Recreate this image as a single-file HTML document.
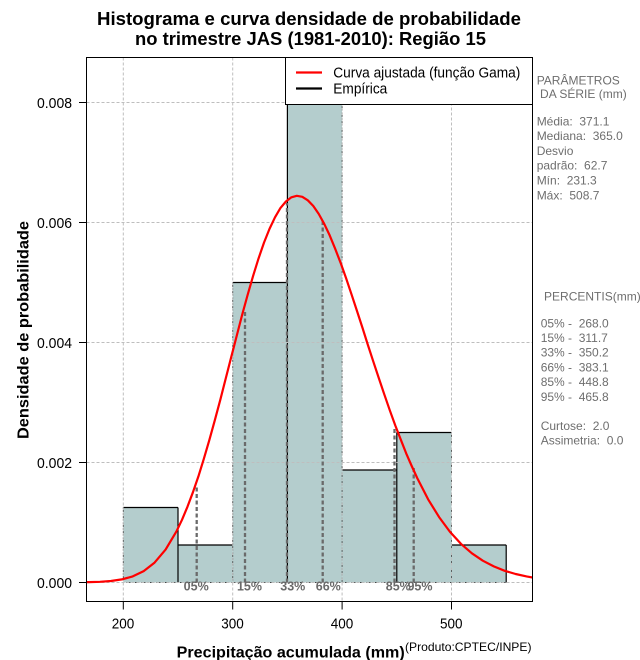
<!DOCTYPE html>
<html>
<head>
<meta charset="utf-8">
<style>
html,body{margin:0;padding:0;background:#fff;}
svg{display:block;}
text{font-family:"Liberation Sans",Arial,sans-serif;}
.pre{white-space:pre;}
</style>
</head>
<body>
<svg width="640" height="660" viewBox="0 0 640 660" xmlns="http://www.w3.org/2000/svg">
<rect x="0" y="0" width="640" height="660" fill="#ffffff"/>

<!-- Title -->
<text x="309" y="25" text-anchor="middle" font-weight="bold" font-size="18.5" textLength="424" lengthAdjust="spacingAndGlyphs">Histograma e curva densidade de probabilidade</text>
<text x="310.5" y="45" text-anchor="middle" font-weight="bold" font-size="18.5" textLength="351" lengthAdjust="spacingAndGlyphs">no trimestre JAS (1981-2010): Região 15</text>

<!-- Histogram bars fill -->
<g fill="#b4cdcd" stroke="none">
  <rect x="123.3" y="507.5" width="54.7" height="75"/>
  <rect x="178" y="545" width="54.7" height="37.5"/>
  <rect x="232.7" y="282.5" width="54.7" height="300"/>
  <rect x="287.4" y="94.5" width="54.7" height="488"/>
  <rect x="342.1" y="470" width="54.7" height="112.5"/>
  <rect x="396.8" y="432.5" width="54.7" height="150"/>
  <rect x="451.5" y="545" width="54.7" height="37.5"/>
</g>

<!-- dotted borders -->
<g stroke="#000" stroke-width="1" stroke-dasharray="1,2" fill="none">
  <line x1="123.3" y1="507.5" x2="123.3" y2="582.5"/>
  <line x1="232.7" y1="282.5" x2="232.7" y2="582.5"/>
  <line x1="342.1" y1="94.5" x2="342.1" y2="582.5"/>
  <line x1="451.5" y1="432.5" x2="451.5" y2="582.5"/>
  <line x1="123.3" y1="582.5" x2="506.2" y2="582.5"/>
</g>
<!-- solid borders -->
<g stroke="#000" stroke-width="1.2" fill="none">
  <line x1="123.3" y1="507.5" x2="178" y2="507.5"/>
  <line x1="178" y1="507.5" x2="178" y2="582.5"/>
  <line x1="178" y1="545" x2="232.7" y2="545"/>
  <line x1="232.7" y1="282.5" x2="287.4" y2="282.5"/>
  <line x1="287.4" y1="94.5" x2="287.4" y2="582.5"/>
  <line x1="287.4" y1="94.5" x2="342.1" y2="94.5"/>
  <line x1="342.1" y1="470" x2="396.8" y2="470"/>
  <line x1="396.8" y1="432.5" x2="396.8" y2="582.5"/>
  <line x1="396.8" y1="432.5" x2="451.5" y2="432.5"/>
  <line x1="451.5" y1="545" x2="506.2" y2="545"/>
  <line x1="506.2" y1="545" x2="506.2" y2="582.5"/>
</g>

<!-- grid -->
<g stroke="#bebebe" stroke-width="1" stroke-dasharray="3,2" fill="none">
  <line x1="123.3" y1="57.5" x2="123.3" y2="601.5"/>
  <line x1="232.7" y1="57.5" x2="232.7" y2="601.5"/>
  <line x1="342.1" y1="57.5" x2="342.1" y2="601.5"/>
  <line x1="451.5" y1="57.5" x2="451.5" y2="601.5"/>
  <line x1="86.5" y1="582.5" x2="532.5" y2="582.5"/>
  <line x1="86.5" y1="462.5" x2="532.5" y2="462.5"/>
  <line x1="86.5" y1="342.5" x2="532.5" y2="342.5"/>
  <line x1="86.5" y1="222.5" x2="532.5" y2="222.5"/>
  <line x1="86.5" y1="102.5" x2="532.5" y2="102.5"/>
</g>

<!-- percentile dashed lines -->
<g stroke="#6a6a6a" stroke-width="2.3" stroke-dasharray="4,2.5" fill="none">
  <line x1="196.7" y1="582.5" x2="196.7" y2="486"/>
  <line x1="245" y1="582.5" x2="245" y2="311"/>
  <line x1="287" y1="582.5" x2="287" y2="203"/>
  <line x1="322.7" y1="582.5" x2="322.7" y2="221"/>
  <line x1="394.5" y1="582.5" x2="394.5" y2="428"/>
  <line x1="413.7" y1="582.5" x2="413.7" y2="467"/>
</g>

<!-- percentile labels -->
<g fill="#6a6a6a" font-weight="bold" font-size="12.5" text-anchor="middle">
  <text x="196.2" y="590.7">05%</text>
  <text x="249.5" y="590.7">15%</text>
  <text x="292.8" y="590.7">33%</text>
  <text x="328.3" y="590.7">66%</text>
  <text x="398.3" y="590.7">85%</text>
  <text x="420" y="590.7">95%</text>
</g>

<!-- gamma density curve -->
<defs>
  <clipPath id="plotclip"><rect x="86.5" y="57.5" width="446" height="544"/></clipPath>
</defs>
<g clip-path="url(#plotclip)">
<polyline fill="none" stroke="#ff0000" stroke-width="2.2" stroke-linejoin="round" transform="translate(-1.5,0)"
points="80,582.3 86.5,582.2 90.5,582.1 101.4,581.8 112.4,581.0 123.3,579.4 134.2,576.4 145.2,571.1 156.1,562.6 167.1,549.6 178.0,531.3 183.5,519.8 188.9,506.9 194.4,492.3 199.9,476.4 205.3,458.9 210.8,440.2 216.3,420.3 221.8,399.8 227.2,378.6 232.7,357.2 238.2,335.9 243.6,315.0 249.1,295.0 254.6,275.9 260.0,258.6 265.5,242.6 271.0,228.9 276.5,217.3 281.9,208.1 287.4,201.5 292.9,197.3 298.3,195.8 303.8,196.8 309.3,200.3 314.8,206.0 320.2,213.9 325.7,223.8 331.2,235.4 336.6,248.6 342.1,262.8 347.6,278.2 353.0,294.3 358.5,311.0 364.0,327.9 369.4,345.0 374.9,361.8 380.4,378.4 385.9,394.7 391.3,410.3 396.8,425.5 402.3,439.7 407.7,453.4 413.2,466.0 418.7,478.0 429.6,499.3 440.6,517.1 451.5,531.9 462.4,543.8 473.4,553.3 484.3,560.7 495.3,566.4 506.2,570.8 517.1,574.0 528.1,576.4 536,577.8"/>
</g>

<!-- plot frame -->
<rect x="86.5" y="57.5" width="446" height="544" fill="none" stroke="#000" stroke-width="1"/>

<!-- axis ticks -->
<g stroke="#000" stroke-width="1">
  <line x1="79" y1="582.5" x2="86.5" y2="582.5"/>
  <line x1="79" y1="462.5" x2="86.5" y2="462.5"/>
  <line x1="79" y1="342.5" x2="86.5" y2="342.5"/>
  <line x1="79" y1="222.5" x2="86.5" y2="222.5"/>
  <line x1="79" y1="102.5" x2="86.5" y2="102.5"/>
  <line x1="123.3" y1="601.5" x2="123.3" y2="609.5"/>
  <line x1="232.7" y1="601.5" x2="232.7" y2="609.5"/>
  <line x1="342.1" y1="601.5" x2="342.1" y2="609.5"/>
  <line x1="451.5" y1="601.5" x2="451.5" y2="609.5"/>
</g>
<g fill="#000" font-size="15" text-anchor="end">
  <text x="72" y="588.1" textLength="35" lengthAdjust="spacingAndGlyphs">0.000</text>
  <text x="72" y="468.1" textLength="35" lengthAdjust="spacingAndGlyphs">0.002</text>
  <text x="72" y="348.1" textLength="35" lengthAdjust="spacingAndGlyphs">0.004</text>
  <text x="72" y="228.1" textLength="35" lengthAdjust="spacingAndGlyphs">0.006</text>
  <text x="72" y="108.1" textLength="35" lengthAdjust="spacingAndGlyphs">0.008</text>
</g>
<g fill="#000" font-size="15" text-anchor="middle">
  <text x="123" y="628.3" textLength="22.5" lengthAdjust="spacingAndGlyphs">200</text>
  <text x="232.5" y="628.3" textLength="22.5" lengthAdjust="spacingAndGlyphs">300</text>
  <text x="342" y="628.3" textLength="22.5" lengthAdjust="spacingAndGlyphs">400</text>
  <text x="451.3" y="628.3" textLength="22.5" lengthAdjust="spacingAndGlyphs">500</text>
</g>

<!-- axis labels -->
<text transform="translate(28.5,330) rotate(-90)" text-anchor="middle" font-weight="bold" font-size="16" textLength="218" lengthAdjust="spacingAndGlyphs">Densidade de probabilidade</text>
<text x="176.7" y="657.5" font-weight="bold" font-size="16" textLength="228" lengthAdjust="spacingAndGlyphs">Precipitação acumulada (mm)</text>
<text x="405" y="651" font-size="12" textLength="126.5" lengthAdjust="spacingAndGlyphs">(Produto:CPTEC/INPE)</text>

<!-- legend -->
<rect x="285.5" y="57.5" width="247" height="47" fill="#ffffff" stroke="#000" stroke-width="1"/>
<line x1="296" y1="72.5" x2="322" y2="72.5" stroke="#ff0000" stroke-width="2.2"/>
<line x1="296" y1="88.5" x2="322" y2="88.5" stroke="#000000" stroke-width="2.2"/>
<text x="333.3" y="77.6" font-size="14.5" textLength="187" lengthAdjust="spacingAndGlyphs">Curva ajustada (função Gama)</text>
<text x="333.3" y="93.4" font-size="14.5" textLength="54" lengthAdjust="spacingAndGlyphs">Empírica</text>

<!-- right panel -->
<g fill="#6e6e6e" font-size="12">
  <text x="536.7" y="84.3" class="pre">PARÂMETROS</text>
  <text x="536.7" y="97.8" class="pre"> DA SÉRIE (mm)</text>
  <text x="536.7" y="125.3" class="pre">Média:  371.1</text>
  <text x="536.7" y="140.1" class="pre">Mediana:  365.0</text>
  <text x="536.7" y="154.9" class="pre">Desvio</text>
  <text x="536.7" y="169.7" class="pre">padrão:  62.7</text>
  <text x="536.7" y="184.5" class="pre">Mín:  231.3</text>
  <text x="536.7" y="199.3" class="pre">Máx:  508.7</text>

  <text x="540.7" y="300.3" class="pre"> PERCENTIS(mm)</text>
  <text x="540.7" y="327.3" class="pre">05% -  268.0</text>
  <text x="540.7" y="342.0" class="pre">15% -  311.7</text>
  <text x="540.7" y="356.7" class="pre">33% -  350.2</text>
  <text x="540.7" y="371.4" class="pre">66% -  383.1</text>
  <text x="540.7" y="386.1" class="pre">85% -  448.8</text>
  <text x="540.7" y="400.8" class="pre">95% -  465.8</text>
  <text x="540.7" y="430.0" class="pre">Curtose:  2.0</text>
  <text x="540.7" y="444.7" class="pre">Assimetria:  0.0</text>
</g>
</svg>
</body>
</html>
